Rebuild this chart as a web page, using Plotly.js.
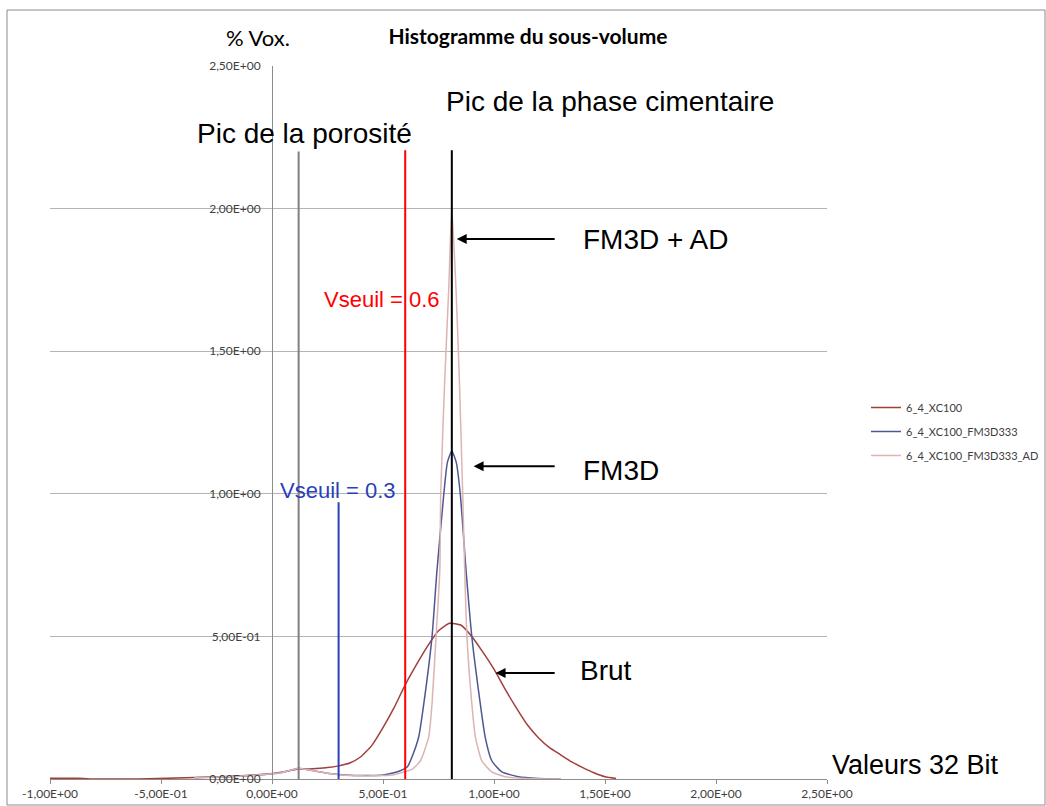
<!DOCTYPE html>
<html>
<head>
<meta charset="utf-8">
<script src="https://cdn.plot.ly/plotly-3.0.1.min.js"></script>
<style>html,body{margin:0;padding:0;background:#fff;}#chart{width:1046px;height:806px;}</style>
</head>
<body>
<div id="chart"></div>
<script>
// ---- data ----
var seriesNames = ["6_4_XC100", "6_4_XC100_FM3D333", "6_4_XC100_FM3D333_AD"];

var brutX = [-1.0, -0.9, -0.85, -0.8, -0.6, -0.35, -0.2, -0.1, 0.0, 0.05, 0.1, 0.12, 0.15, 0.2, 0.25, 0.3, 0.35, 0.4, 0.45, 0.5, 0.55, 0.6, 0.65, 0.7, 0.75, 0.8, 0.85, 0.9, 0.95, 1.0, 1.05, 1.1, 1.15, 1.2, 1.25, 1.3, 1.35, 1.4, 1.45, 1.5, 1.55];
var brutY = [0.003, 0.003, 0.002, 0.0, 0.0, 0.005, 0.009, 0.013, 0.019, 0.025, 0.032, 0.036, 0.035, 0.037, 0.040, 0.046, 0.056, 0.078, 0.118, 0.180, 0.250, 0.330, 0.400, 0.465, 0.520, 0.546, 0.540, 0.500, 0.445, 0.385, 0.315, 0.250, 0.190, 0.145, 0.110, 0.085, 0.060, 0.040, 0.022, 0.008, 0.002];

var fm3dX = [-0.35, -0.2, -0.1, 0.0, 0.05, 0.1, 0.12, 0.15, 0.2, 0.25, 0.3, 0.35, 0.4, 0.45, 0.5, 0.54, 0.58, 0.61, 0.631, 0.661, 0.684, 0.721, 0.742, 0.774, 0.79, 0.81, 0.83, 0.848, 0.874, 0.9, 0.938, 0.96, 0.99, 1.035, 1.11, 1.2, 1.3];
var fm3dY = [0.004, 0.008, 0.012, 0.018, 0.024, 0.034, 0.038, 0.034, 0.027, 0.020, 0.016, 0.013, 0.012, 0.012, 0.014, 0.020, 0.030, 0.043, 0.078, 0.148, 0.265, 0.500, 0.720, 1.000, 1.110, 1.150, 1.110, 1.000, 0.733, 0.500, 0.265, 0.148, 0.064, 0.025, 0.008, 0.002, 0.0];

var adX = [-0.35, -0.2, -0.1, 0.0, 0.05, 0.1, 0.12, 0.15, 0.2, 0.25, 0.3, 0.35, 0.4, 0.45, 0.5, 0.55, 0.6, 0.631, 0.669, 0.706, 0.721, 0.739, 0.756, 0.76, 0.778, 0.796, 0.81, 0.829, 0.844, 0.859, 0.868, 0.878, 0.9, 0.916, 0.945, 0.99, 1.05, 1.15, 1.3];
var adY = [0.004, 0.008, 0.012, 0.018, 0.024, 0.034, 0.038, 0.034, 0.027, 0.020, 0.015, 0.012, 0.011, 0.011, 0.012, 0.015, 0.026, 0.034, 0.064, 0.148, 0.265, 0.500, 0.733, 1.000, 1.400, 1.715, 2.000, 1.715, 1.400, 1.000, 0.733, 0.500, 0.265, 0.148, 0.064, 0.025, 0.008, 0.002, 0.0];

// tick labels
var xTickVals = [-1.0, -0.5, 0.0, 0.5, 1.0, 1.5, 2.0, 2.5];
var xTickText = ["-1,00E+00", "-5,00E-01", "0,00E+00", "5,00E-01", "1,00E+00", "1,50E+00", "2,00E+00", "2,50E+00"];
var yTickVals = [0.0, 0.5, 1.0, 1.5, 2.0, 2.5];
var yTickText = ["0,00E+00", "5,00E-01", "1,00E+00", "1,50E+00", "2,00E+00", "2,50E+00"];

// marker lines (peaks and thresholds)
var markerX = [0.12, 0.6, 0.81, 0.3];
var markerTop = [2.2, 2.205, 2.205, 0.97];
var markerColors = ["#808080", "#FF0000", "#000000", "#2B3FB8"];

// arrows: head and tail x positions, y level
var arrowHeadX = [0.832, 0.908, 1.007];
var arrowTailX = [1.28, 1.28, 1.28];
var arrowY = [1.893, 1.097, 0.372];

var seriesColors = ["#A23E3B", "#4E5890", "#DDB4B4"];

var X0 = -1.0, X1 = 2.5;

var traces = [
  {x: brutX, y: brutY, name: seriesNames[0], legendgroup: "a"},
  {x: fm3dX, y: fm3dY, name: seriesNames[1], legendgroup: "b"},
  {x: adX, y: adY, name: seriesNames[2], legendgroup: "c"}
].map(function (t, i) {
  t.type = "scatter"; t.mode = "lines";
  t.line = {color: seriesColors[i], width: 1.5, shape: "spline", smoothing: 0.5};
  t.cliponaxis = false;
  return t;
});

var shapes = markerX.map(function (v, i) {
  return {type: "line", xref: "x", yref: "y", x0: v, x1: v, y0: 0, y1: markerTop[i],
          line: {color: markerColors[i], width: 2}, layer: "above"};
});
// outer frame
shapes.push({type: "rect", xref: "paper", yref: "paper",
  x0: (7 - 50) / 777, x1: (1045 - 50) / 777, y0: (779 - 805) / 713, y1: (779 - 10) / 713,
  line: {color: "#8c8c8c", width: 1}, layer: "below"});

var bigFont = {family: "Liberation Sans, Arial, sans-serif", size: 28, color: "#000"};
var annotations = [
  {text: "Pic de la porosité", x: -0.3475, y: 2.265, xanchor: "left", font: bigFont},
  {text: "Pic de la phase cimentaire", x: 0.7735, y: 2.377, xanchor: "left", font: bigFont},
  {text: "FM3D + AD", x: 1.392, y: 1.890, xanchor: "left", font: bigFont},
  {text: "FM3D", x: 1.392, y: 1.083, xanchor: "left", font: bigFont},
  {text: "Brut", x: 1.379, y: 0.382, xanchor: "left", font: bigFont},
  {text: "Vseuil = 0.6", x: 0.226, y: 1.680, xanchor: "left",
   font: {family: "Liberation Sans, Arial, sans-serif", size: 22, color: "#FF0000"}},
  {text: "Vseuil = 0.3", x: 0.025, y: 1.013, xanchor: "left",
   font: {family: "Liberation Sans, Arial, sans-serif", size: 22, color: "#2B3FB8"}},
  {text: "Valeurs 32 Bit", xref: "paper", yref: "paper", x: (830 - 50) / 777, y: (779 - 765) / 713, xanchor: "left",
   font: {family: "Liberation Sans, Arial, sans-serif", size: 27, color: "#000"}},
  {text: "% Vox.", xref: "paper", yref: "paper", x: (224 - 50) / 777, y: (779 - 37) / 713, xanchor: "left",
   font: {family: "Lato, sans-serif", size: 22, color: "#000"}}
].map(function (a) {
  a.showarrow = false; a.yanchor = "middle";
  if (!a.xref) { a.xref = "x"; a.yref = "y"; }
  return a;
});
arrowHeadX.forEach(function (hx, i) {
  annotations.push({xref: "x", yref: "y", axref: "x", ayref: "y", x: hx, y: arrowY[i],
    ax: arrowTailX[i], ay: arrowY[i], text: "", showarrow: true,
    arrowhead: 2, arrowsize: 1, arrowwidth: 2, arrowcolor: "#000", standoff: 0});
});

var tickFont = {family: "Lato, sans-serif", size: 12, color: "#404040"};

var layout = {
  width: 1046, height: 806,
  margin: {l: 50, r: 219, t: 66, b: 27, pad: 0, autoexpand: false},
  paper_bgcolor: "#fff", plot_bgcolor: "#fff",
  title: {text: "<b>Histogramme du sous-volume</b>", font: {family: "Lato, sans-serif", size: 21, color: "#000"},
          xref: "paper", x: (528 - 50) / 777, xanchor: "center", yref: "container", y: 1 - 37 / 806, yanchor: "middle"},
  xaxis: {range: [X0, X1], tickvals: xTickVals, ticktext: xTickText, tickfont: tickFont, automargin: false,
          showgrid: false, zeroline: false, showline: true, linecolor: "#8c8c8c", linewidth: 1,
          ticks: "outside", ticklen: 4, tickcolor: "#8c8c8c", ticklabelstandoff: 0, fixedrange: true},
  yaxis: {range: [0, 2.5], tickvals: yTickVals, ticktext: yTickText, tickfont: tickFont, automargin: false,
          showgrid: true, gridcolor: "#b4b4b4", gridwidth: 1, zeroline: false,
          showline: true, linecolor: "#8c8c8c", linewidth: 1, ticks: "",
          anchor: "free", position: (0 - X0) / (X1 - X0), ticklabelstandoff: 9, fixedrange: true},
  showlegend: true,
  legend: {xref: "container", yref: "container", x: 866 / 1046, xanchor: "left", y: 1 - 393 / 806, yanchor: "top",
           font: {family: "Lato, sans-serif", size: 11, color: "#404040"},
           traceorder: "grouped", tracegroupgap: 5, itemwidth: 30, bgcolor: "rgba(0,0,0,0)"},
  shapes: shapes,
  annotations: annotations
};

Plotly.newPlot("chart", traces, layout, {displayModeBar: false, staticPlot: true});
</script>
</body>
</html>
